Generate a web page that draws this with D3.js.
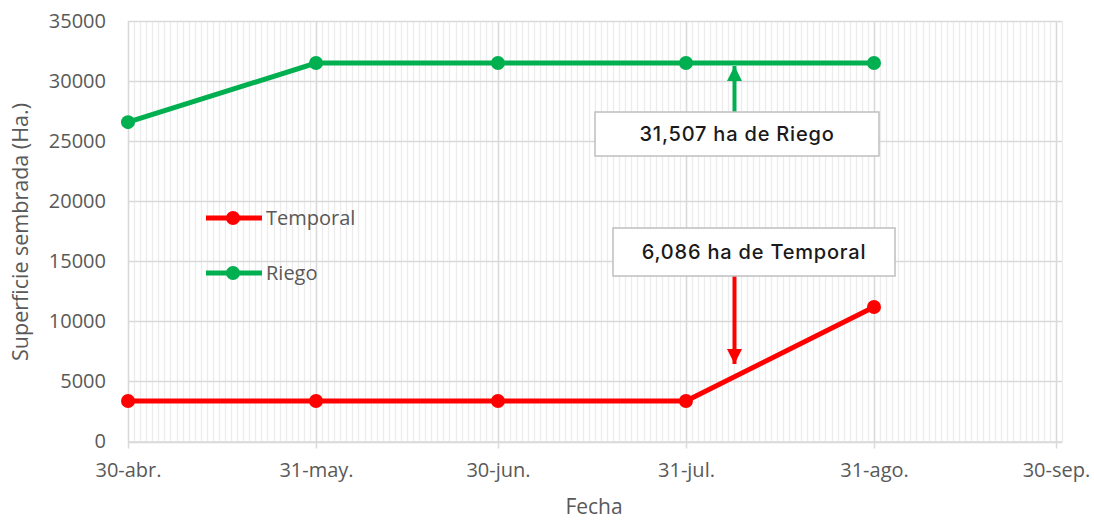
<!DOCTYPE html>
<html>
<head>
<meta charset="utf-8">
<script src="https://cdn.jsdelivr.net/npm/d3@7"></script>
<style>
  body { margin: 0; background: #fff; }
  text { font-family: "Open Sans", sans-serif; }
</style>
</head>
<body>
<script>
// datos
var fechas = ["2021-04-30", "2021-05-31", "2021-06-30", "2021-07-31", "2021-08-31"];
var temporal = [3370, 3370, 3370, 3370, 11190];
var riego = [26580, 31500, 31507, 31507, 31507];
var tickFechas = ["2021-04-30", "2021-05-31", "2021-06-30", "2021-07-31", "2021-08-31", "2021-09-30"];
var tickLabels = ["30-abr.", "31-may.", "30-jun.", "31-jul.", "31-ago.", "30-sep."];
var yTicks = [0, 5000, 10000, 15000, 20000, 25000, 30000, 35000];

var W = 1094, H = 521;
var parse = d3.timeParse("%Y-%m-%d");
var pLeft = 128, pRight = 1062, pTop = 21, pBottom = 441.5;

var svg = d3.select("body").append("svg")
  .attr("width", W)
  .attr("height", H);

var x = d3.scaleTime()
  .domain([parse("2021-04-30"), parse("2021-10-01")])
  .range([pLeft, pRight]);
var y = d3.scaleLinear()
  .domain([0, 35000])
  .range([pBottom, pTop]);

// minor vertical gridlines (daily)
var days = d3.timeDay.range(parse("2021-04-30"), d3.timeDay.offset(parse("2021-10-01"), 1));
svg.append("g").selectAll("line")
  .data(days)
  .enter().append("line")
  .attr("x1", function(d) { return Math.round(x(d)) + 0.5; })
  .attr("x2", function(d) { return Math.round(x(d)) + 0.5; })
  .attr("y1", pTop).attr("y2", pBottom)
  .style("stroke", "#ececec")
  .style("stroke-width", 1.3);

// major horizontal gridlines
svg.append("g").selectAll("line")
  .data(yTicks)
  .enter().append("line")
  .attr("x1", pLeft).attr("x2", pRight)
  .attr("y1", function(d) { return Math.round(y(d)) + 0.5; })
  .attr("y2", function(d) { return Math.round(y(d)) + 0.5; })
  .style("stroke", "#d9d9d9")
  .style("stroke-width", 1.3);

// major vertical gridlines
var tickDates = tickFechas.map(parse);
svg.append("g").selectAll("line")
  .data(tickDates)
  .enter().append("line")
  .attr("x1", function(d) { return Math.round(x(d)) + 0.5; })
  .attr("x2", function(d) { return Math.round(x(d)) + 0.5; })
  .attr("y1", pTop).attr("y2", pBottom + 7)
  .style("stroke", "#d9d9d9")
  .style("stroke-width", 1.5);

// x axis
var xAxis = d3.axisBottom(x)
  .tickValues(tickDates)
  .tickFormat(function(d, i) { return tickLabels[i]; })
  .tickSize(0)
  .tickPadding(21);
var gx = svg.append("g")
  .attr("transform", "translate(0," + pBottom + ")")
  .call(xAxis);
gx.select(".domain").style("stroke", "#d9d9d9").style("stroke-width", 1.5);
gx.selectAll("text").style("font-size", "20px").style("fill", "#595959")
  .style("font-family", "Open Sans");

// y axis
var yAxis = d3.axisLeft(y)
  .tickValues(yTicks)
  .tickSize(0)
  .tickPadding(22)
  .tickFormat(d3.format("d"));
var gy = svg.append("g")
  .attr("transform", "translate(" + pLeft + ",0)")
  .call(yAxis);
gy.select(".domain").remove();
gy.selectAll("text").style("font-size", "20px").style("fill", "#595959")
  .style("font-family", "Open Sans");

// axis titles
svg.append("text")
  .attr("x", 594)
  .attr("y", 514)
  .attr("text-anchor", "middle")
  .style("font-size", "21px").style("fill", "#595959")
  .text("Fecha");
svg.append("text")
  .attr("transform", "translate(28," + 232 + ") rotate(-90)")
  .attr("text-anchor", "middle")
  .style("font-size", "21.5px").style("fill", "#595959")
  .text("Superficie sembrada (Ha.)");

// series
var series = [
  { name: "Temporal", values: temporal, color: "#ff0000" },
  { name: "Riego", values: riego, color: "#00b050" }
];
var line = d3.line()
  .x(function(d) { return x(d.date); })
  .y(function(d) { return y(d.v); });

series.forEach(function(s) {
  var pts = fechas.map(function(f, i) { return { date: parse(f), v: s.values[i] }; });
  svg.append("path")
    .datum(pts)
    .attr("d", line)
    .style("fill", "none")
    .style("stroke", s.color)
    .style("stroke-width", 5);
  svg.append("g").selectAll("circle")
    .data(pts)
    .enter().append("circle")
    .attr("cx", function(d) { return x(d.date); })
    .attr("cy", function(d) { return y(d.v); })
    .attr("r", 7)
    .style("fill", s.color);
});

// legend
series.forEach(function(s, i) {
  var ly = 218 + i * 55;
  svg.append("line")
    .attr("x1", 206).attr("x2", 262)
    .attr("y1", ly).attr("y2", ly)
    .style("stroke", s.color).style("stroke-width", 5);
  svg.append("circle")
    .attr("cx", 233).attr("cy", ly).attr("r", 7)
    .style("fill", s.color);
  svg.append("text")
    .attr("x", 266).attr("y", ly + 7)
    .style("font-size", "20px").style("fill", "#595959")
    .text(s.name);
});

// annotations
var defs = svg.append("defs");
function marker(id, color) {
  defs.append("marker")
    .attr("id", id)
    .attr("viewBox", "0 0 10 10")
    .attr("refX", 10).attr("refY", 5)
    .attr("markerWidth", 3.8).attr("markerHeight", 4.2)
    .attr("markerUnits", "strokeWidth")
    .attr("orient", "auto")
    .append("path")
    .attr("d", "M0,0 L10,5 L0,10 Z")
    .style("fill", color);
}
marker("arrG", "#00b050");
marker("arrR", "#ff0000");

var annX = parse("2021-08-08");
svg.append("line")
  .attr("x1", x(annX)).attr("x2", x(annX))
  .attr("y1", 112).attr("y2", 66)
  .style("stroke", "#00b050").style("stroke-width", 4)
  .attr("marker-end", "url(#arrG)");
svg.append("line")
  .attr("x1", x(annX)).attr("x2", x(annX))
  .attr("y1", 276).attr("y2", 364)
  .style("stroke", "#ff0000").style("stroke-width", 4)
  .attr("marker-end", "url(#arrR)");

var boxes = [
  { x0: 595, y0: 112, w: 284, h: 44, label: "31,507 ha de Riego" },
  { x0: 613, y0: 228, w: 282, h: 48, label: "6,086 ha de Temporal" }
];
boxes.forEach(function(b) {
  svg.append("rect")
    .attr("x", b.x0).attr("y", b.y0)
    .attr("width", b.w).attr("height", b.h)
    .style("fill", "#fff")
    .style("stroke", "#bfbfbf").style("stroke-width", 1.5);
  svg.append("text")
    .attr("x", b.x0 + b.w / 2).attr("y", b.y0 + b.h / 2 + 7)
    .attr("text-anchor", "middle")
    .style("font-family", "Inter, sans-serif")
    .style("font-size", "20px").style("font-weight", 500).style("fill", "#1a1a1a")
    .style("letter-spacing", "0.8px")
    .text(b.label);
});
</script>
</body>
</html>
